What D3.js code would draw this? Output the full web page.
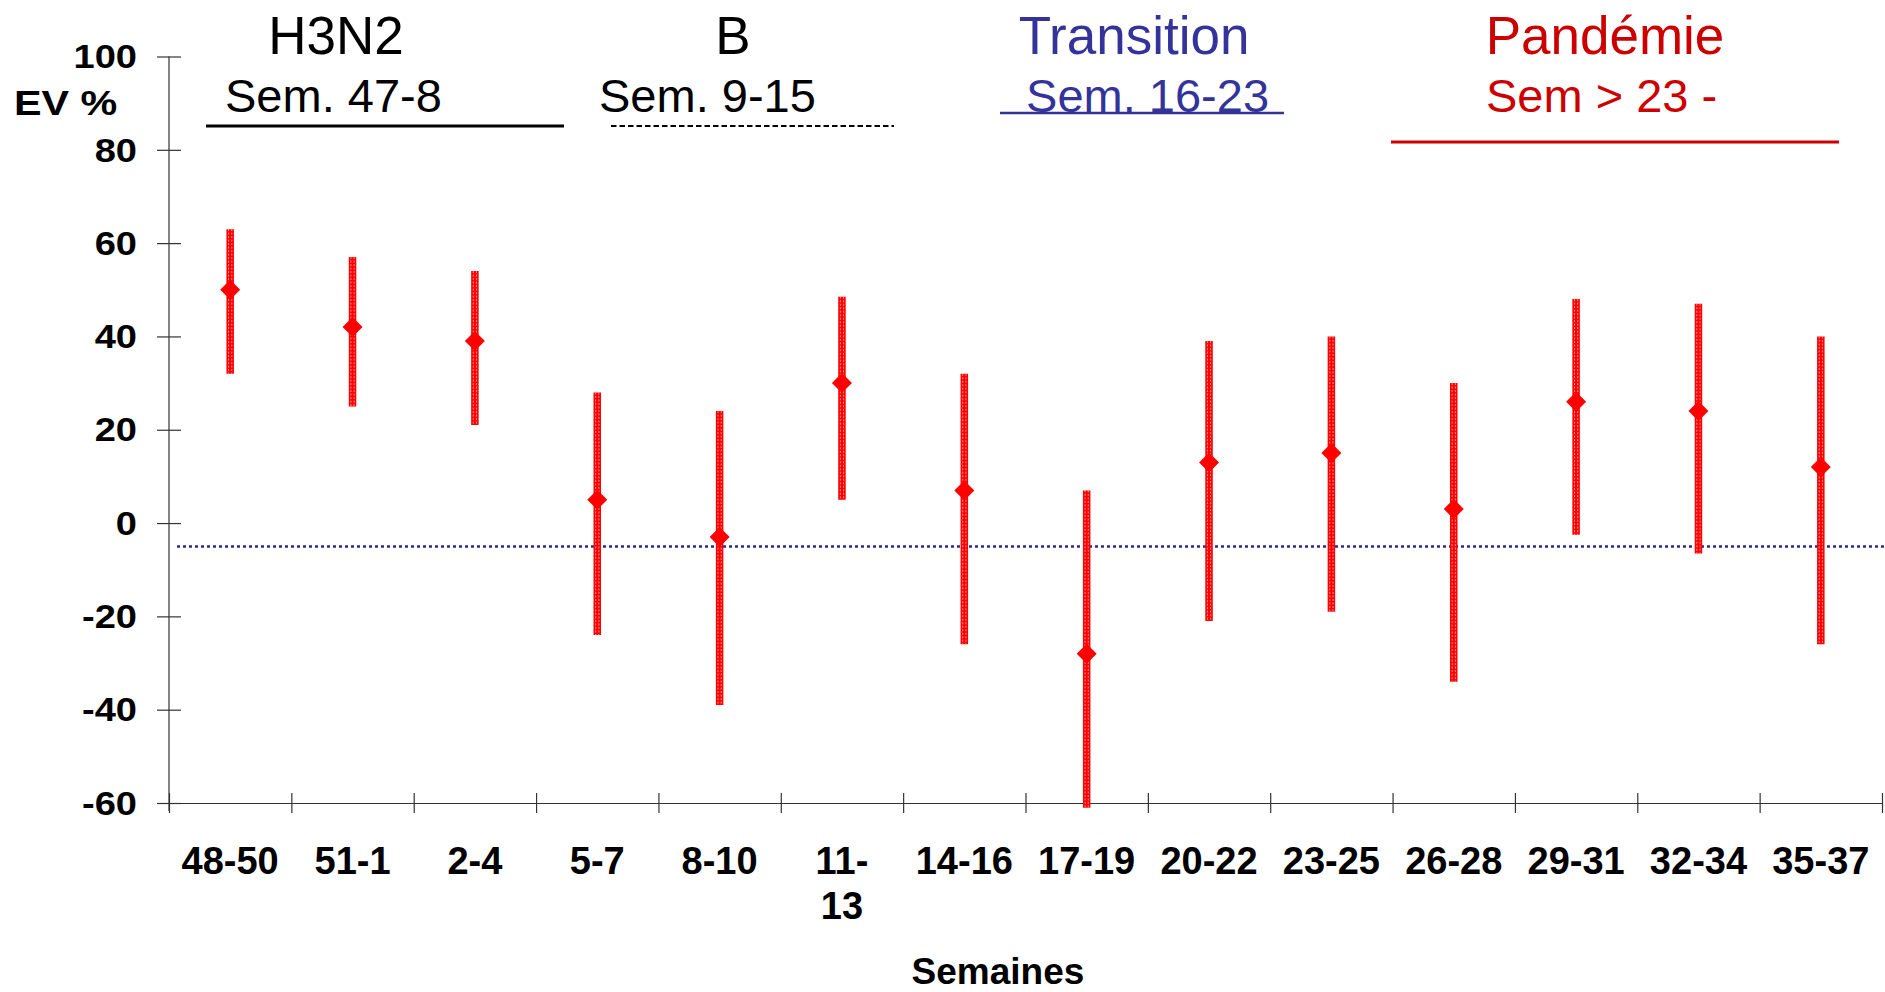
<!DOCTYPE html>
<html>
<head>
<meta charset="utf-8">
<script src="https://cdn.jsdelivr.net/npm/d3@7"></script>
<style>
	body { margin: 0; background: #fff; }
	svg { display: block; font-family: "Liberation Sans", Arial, Helvetica, sans-serif; }
	.axis path, .axis line { stroke: #333; stroke-width: 1.2; }
</style>
</head>
<body>
<svg id="chart" width="1885" height="992"></svg>
<script>
// weeks (groups of 3)
var weeks = ["48-50", "51-1", "2-4", "5-7", "8-10", "11-13", "14-16",
	"17-19", "20-22", "23-25", "26-28", "29-31", "32-34", "35-37"];
// vaccine effectiveness, point estimate
var ev = [50, 42, 39, 5, -3, 30, 7, -28, 13, 15, 3, 26, 24, 12];
// confidence interval
var evLow = [32, 25, 21, -24, -39, 5, -26, -61, -21, -19, -34, -2.5, -6.5, -26];
var evHigh = [63, 57, 54, 28, 24, 48.5, 32, 7, 39, 40, 30, 48, 47, 40];
var yTicks = [-60, -40, -20, 0, 20, 40, 60, 80, 100];
var refLine = -5;

// season periods on top
var periods = ["H3N2", "B", "Transition", "Pandémie"];
var periodWeeks = ["Sem. 47-8", "Sem. 9-15", " Sem. 16-23 ", "Sem > 23 -"];
var periodColors = ["#000", "#000", "#333399", "#cc0000"];

var svg = d3.select("#chart");

var pLeft = 169, pRight = 1882, pTop = 56.5, pBottom = 803;

var x = d3.scaleBand()
	.domain(weeks)
	.range([pLeft, pRight]);
var xEdge = d3.scaleLinear()
	.domain([0, weeks.length])
	.range([pLeft, pRight]);
var y = d3.scaleLinear()
	.domain([-60, 100])
	.range([pBottom, pTop]);

// y axis, ticks cross the line
var sx = 1.12; // labels are a wide bold face
var yAxis = svg.append("g")
	.attr("class", "axis")
	.attr("transform", "translate(" + pLeft + ",0)")
	.call(d3.axisLeft(y).tickValues(yTicks).tickFormat(String).tickSize(12).tickPadding(19).tickSizeOuter(0))
yAxis.selectAll(".tick line").attr("x1", 12).attr("x2", -12);
yAxis.selectAll(".tick text")
	.attr("font-size", 34)
	.attr("font-weight", "bold")
	.attr("fill", "#000")
	.attr("x", -32 / sx)
	.attr("dy", "0.33em")
	.attr("transform", "scale(" + sx + ",1)");
yAxis.select(".domain").attr("d", "M0," + pTop + "V" + (pBottom + 8));

// x axis: boundary ticks
var xAxis = svg.append("g")
	.attr("class", "axis")
	.attr("transform", "translate(0," + pBottom + ")")
	.call(d3.axisBottom(xEdge).tickValues(d3.range(weeks.length + 1)).tickFormat("").tickSizeOuter(0))
xAxis.selectAll(".tick line").attr("y1", -10).attr("y2", 10);

// x labels
var wrap = { "11-13": ["11-", "13"] };
svg.append("g").selectAll("text")
	.data(weeks)
	.enter()
	.append("text")
	.attr("x", function(d) { return x(d) + x.bandwidth() / 2; })
	.attr("y", 874)
	.attr("text-anchor", "middle")
	.attr("font-size", 38)
	.attr("font-weight", "bold")
	.each(function(d) {
		var lines = wrap[d] || [d];
		var t = d3.select(this);
		lines.forEach(function(l, i) {
			t.append("tspan")
				.attr("x", x(d) + x.bandwidth() / 2)
				.attr("dy", i ? 45 : 0)
				.text(l);
		});
	});

// axis titles
svg.append("text")
	.attr("transform", "translate(14,115) scale(1.18,1)")
	.attr("font-size", 35).attr("font-weight", "bold")
	.text("EV %");
svg.append("text")
	.attr("x", 998).attr("y", 984)
	.attr("text-anchor", "middle")
	.attr("font-size", 37).attr("font-weight", "bold")
	.text("Semaines");

// reference line
svg.append("line")
	.attr("x1", 177).attr("x2", 1885)
	.attr("y1", y(refLine)).attr("y2", y(refLine))
	.attr("stroke", "#2b2b8f")
	.attr("stroke-width", 2.5)
	.attr("stroke-dasharray", "3,3");

// error bars
var bars = svg.append("g");
bars.selectAll("line.ci")
	.data(weeks)
	.enter()
	.append("line")
	.attr("class", "ci")
	.attr("x1", function(d) { return x(d) + x.bandwidth() / 2; })
	.attr("x2", function(d) { return x(d) + x.bandwidth() / 2; })
	.attr("y1", function(d, i) { return y(evHigh[i]); })
	.attr("y2", function(d, i) { return y(evLow[i]); })
	.attr("stroke", "#ff0000")
	.attr("stroke-width", 7.5);
[-1.6, 1.6].forEach(function(off) {
	bars.selectAll("line.hatch" + (off > 0 ? "r" : "l"))
		.data(weeks)
		.enter()
		.append("line")
		.attr("class", "hatch" + (off > 0 ? "r" : "l"))
		.attr("x1", function(d) { return x(d) + x.bandwidth() / 2 + off; })
		.attr("x2", function(d) { return x(d) + x.bandwidth() / 2 + off; })
		.attr("y1", function(d, i) { return y(evHigh[i]); })
		.attr("y2", function(d, i) { return y(evLow[i]); })
		.attr("stroke", "#ffd0d0")
		.attr("stroke-width", 0.7)
		.attr("stroke-dasharray", "2,1.5");
});

// diamonds
bars.selectAll("path")
	.data(weeks)
	.enter()
	.append("path")
	.attr("d", d3.symbol().type(d3.symbolSquare).size(200))
	.attr("transform", function(d, i) {
		return "translate(" + (x(d) + x.bandwidth() / 2) + "," + y(ev[i]) + ") rotate(45)";
	})
	.attr("fill", "#ff0000");

var head = [
	{ cx: 336, sx: 225, line: [206, 564, 126], dash: null, w: 3 },
	{ cx: 733, sx: 599, line: [611, 894, 126], dash: "5.5,3", w: 2 },
	{ cx: 1134, sx: 1013, line: [1000, 1284, 113], dash: null, w: 2.5 },
	{ cx: 1605, sx: 1486, line: [1391, 1839, 142], dash: null, w: 3 }
];
periods.forEach(function(p, i) {
	var h = head[i];
	svg.append("text")
		.attr("x", h.cx).attr("y", 54)
		.attr("text-anchor", "middle")
		.attr("font-size", 53)
		.attr("fill", periodColors[i])
		.text(p);
	svg.append("text")
		.attr("x", h.sx).attr("y", 112)
		.attr("font-size", 47)
		.attr("fill", periodColors[i])
		.attr("xml:space", "preserve")
		.text(periodWeeks[i]);
	svg.append("line")
		.attr("x1", h.line[0]).attr("x2", h.line[1])
		.attr("y1", h.line[2]).attr("y2", h.line[2])
		.attr("stroke", periodColors[i])
		.attr("stroke-width", h.w)
		.attr("stroke-dasharray", h.dash);
});
</script>
</body>
</html>
